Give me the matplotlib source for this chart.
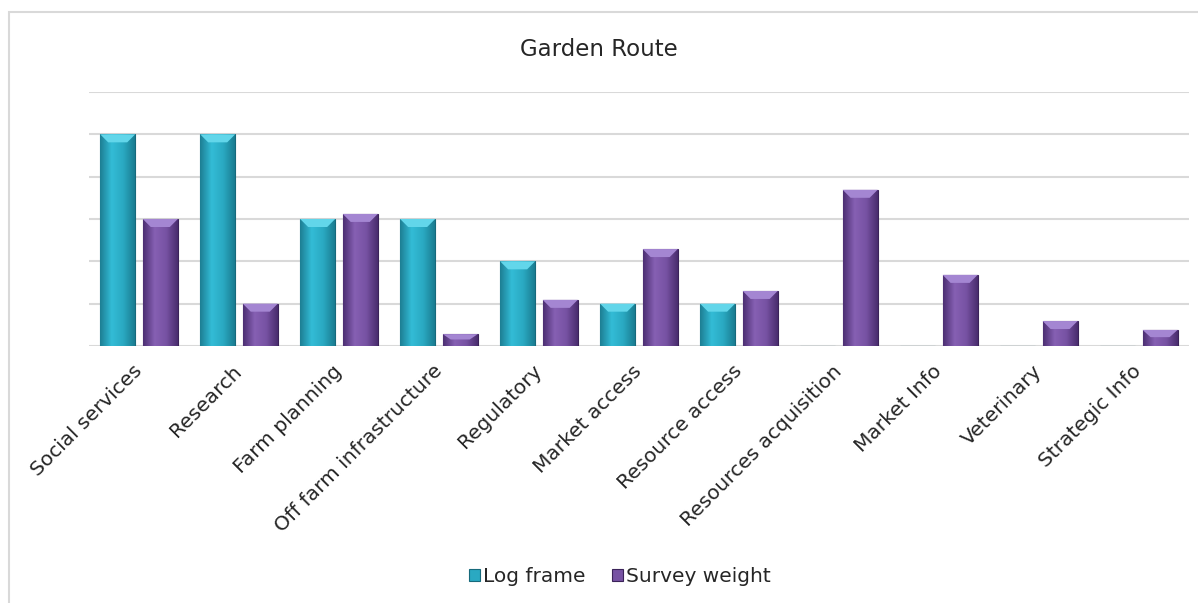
import numpy as np
import matplotlib
matplotlib.use("Agg")
import matplotlib.pyplot as plt
from matplotlib.colors import LinearSegmentedColormap
from matplotlib.patches import Polygon, Rectangle

categories = ["Social services", "Research", "Farm planning", "Off farm infrastructure",
              "Regulatory", "Market access", "Resource access", "Resources acquisition",
              "Market Info", "Veterinary", "Strategic Info"]
log_frame = [5, 5, 3, 3, 2, 1, 1, 0, 0, 0, 0]
survey_weight = [3.0, 1.0, 3.12, 0.28, 1.09, 2.29, 1.3, 3.69, 1.68, 0.59, 0.38]

plt.rcParams['font.family'] = ['DejaVu Sans']

fig = plt.figure(figsize=(11.98, 6.03), dpi=100)
ax = fig.add_axes([0.0743, 0.4262, 0.918, 0.4212])

# frame around the whole chart area
fig.patches.append(Rectangle((9 / 1198, -0.1), 1.2, 1 - 12 / 603 + 0.1, transform=fig.transFigure,
                             fill=False, edgecolor='#d9d9d9', linewidth=1.5))

x = np.arange(len(categories))
w = 0.35
off = 0.213

styles = [
    ("Log frame", log_frame, -off, ['#1d7f94', '#33bcd6', '#2aa9c2', '#1a7d91'], '#62d6ea', '#176a7c'),
    ("Survey weight", survey_weight, off, ['#4d2f73', '#8660b3', '#7752a3', '#4a2d6e'], '#a486d2', '#3b2359'),
]

# pixel sizes of the bevel converted to data units
px_x = 1 / 100.0
px_y = 6 / 254.0

for label, vals, dx, grad, top_col, edge in styles:
    cmap = LinearSegmentedColormap.from_list(label, grad)
    bars = ax.bar(x + dx, vals, w, color=grad[2], edgecolor=edge, linewidth=0.8, zorder=3, label=label)
    g = np.linspace(0, 1, 64).reshape(1, -1)
    for b, v in zip(bars, vals):
        if v <= 0:
            continue
        x0 = b.get_x()
        x1 = x0 + b.get_width()
        im = ax.imshow(g, extent=[x0, x1, 0, v], aspect='auto', cmap=cmap, zorder=3.5)
        im.set_clip_path(b)
        bx = 8 * px_x
        by = min(8 * px_y, v * 0.45)
        ax.add_patch(Polygon([(x0, v), (x1, v), (x1 - bx, v - by), (x0 + bx, v - by)],
                             closed=True, facecolor=top_col, edgecolor='none', zorder=4))

ax.set_xlim(-0.5, len(categories) - 0.5)
ax.set_ylim(0, 6)
ax.set_yticks(np.arange(0, 7, 1))
ax.set_yticklabels([])
ax.tick_params(axis='y', length=0)
ax.tick_params(axis='x', length=0, pad=16)
ax.grid(axis='y', color='#d9d9d9', linewidth=1.5, zorder=0)
ax.set_axisbelow(True)
for s in ax.spines.values():
    s.set_visible(False)

ax.set_xticks(x)
ax.set_xticklabels(categories, rotation=45, ha='right', va='center', rotation_mode='anchor',
                   fontsize=14.5, color='#262626')

fig.text(0.5, 1 - 50 / 603, "Garden Route", ha='center', va='center', fontsize=16.5, color='#262626')

fig.legend(loc='center', bbox_to_anchor=(620 / 1198, 1 - 577 / 603), ncol=2, frameon=False, fontsize=14.5,
           handlelength=0.55, handleheight=0.55, handletextpad=0.15, columnspacing=1.3, labelcolor='#262626')

fig.savefig("out.png", dpi=100, facecolor='white')
